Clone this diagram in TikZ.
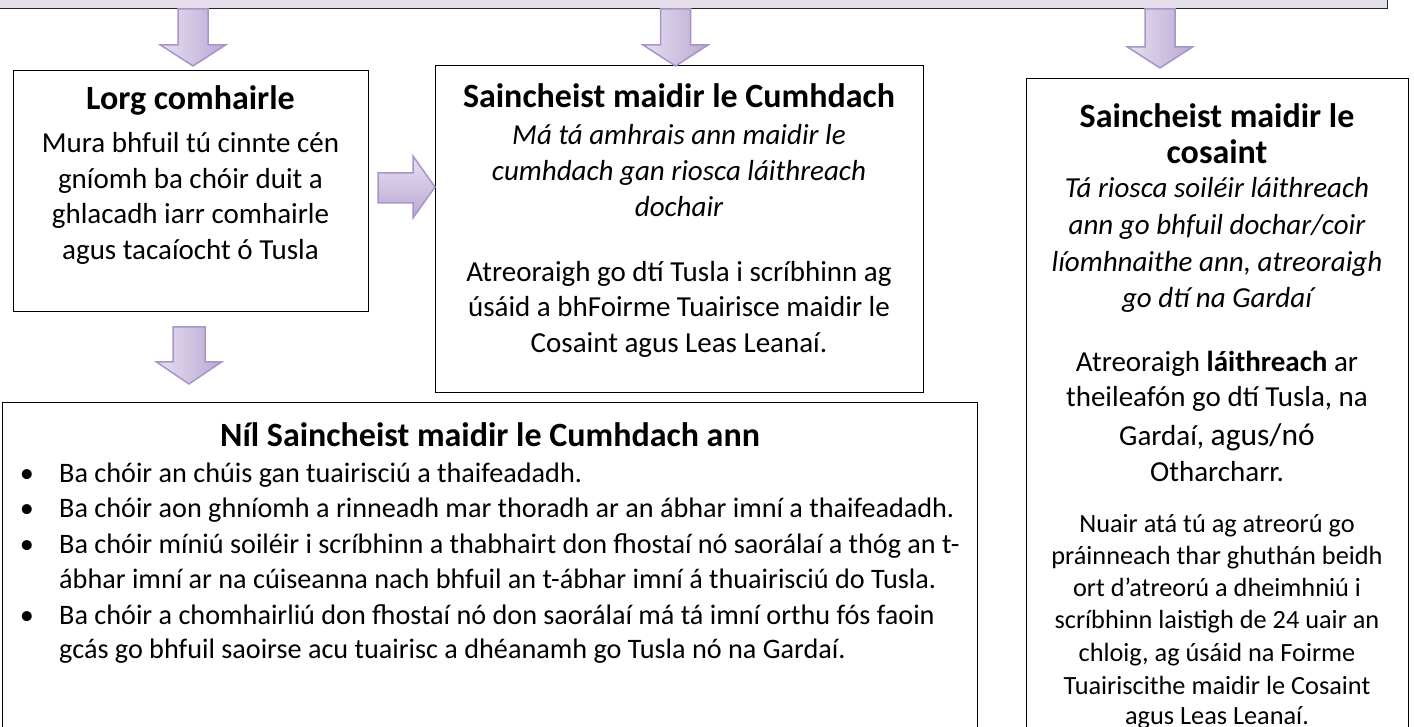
\documentclass[tikz,border=0pt]{standalone}
\usepackage{fontspec}
\setmainfont{Carlito}
\definecolor{toplav}{RGB}{229,223,236}
\definecolor{arrL}{RGB}{230,224,240}
\definecolor{arrR}{RGB}{186,168,212}
\definecolor{arrB}{RGB}{168,148,200}
\newcommand\fbody{\fontsize{29}{35}\selectfont}
\newcommand\fbul{\fontsize{28.2}{35}\selectfont}
\newcommand\ftitle{\fontsize{34}{36}\selectfont\bfseries}
\newcommand\fsmall{\fontsize{26.3}{32}\selectfont}
\newcommand\fbig{\fontsize{31.5}{36}\selectfont}
\begin{document}
\begin{tikzpicture}[x=1pt,y=1pt,
  boxstyle/.style={draw=black, line width=1.2pt, fill=white, inner sep=0pt, anchor=south west},
  tl/.style={anchor=base, inner sep=0pt, font=\ftitle},
  bl/.style={anchor=base, inner sep=0pt, font=\fbody},
  il/.style={anchor=base, inner sep=0pt, font=\fbody\itshape},
  sl/.style={anchor=base, inner sep=0pt, font=\fsmall},
  ll/.style={anchor=base west, inner sep=0pt, font=\fbul},
  bul/.style={anchor=base, inner sep=0pt, font=\fbul},
  blockarrow/.style={left color=arrL, right color=arrR, draw=arrB, line width=1.5pt, line join=miter},
  blockarrowh/.style={top color=arrL, bottom color=arrR, draw=arrB, line width=1.5pt, line join=miter},
]
\useasboundingbox (0,0) rectangle (1414,726);
\begin{scope}
\clip (0,0) rectangle (1414,726);
% boxes
\node[boxstyle, fill=toplav, draw=black!85, minimum width=1397pt, minimum height=30pt] (top) at (-10,717) {};
\node[boxstyle, minimum width=355pt, minimum height=241pt] (lorg) at (13,414) {};
\node[boxstyle, minimum width=488pt, minimum height=327pt] (mid) at (435,333) {};
\node[boxstyle, minimum width=382pt, minimum height=657pt] (right) at (1026,-10) {};
\node[boxstyle, minimum width=975pt, minimum height=333pt] (bot) at (2,-10) {};

% block arrows
\shadedraw[blockarrow] (178,717) -- (208,717) -- (208,681) -- (225.5,681) -- (193,660) -- (160.5,681) -- (178,681) -- cycle;
\shadedraw[blockarrow] (660.5,717) -- (690.5,717) -- (690.5,681) -- (708,681) -- (675.5,660) -- (643,681) -- (660.5,681) -- cycle;
\shadedraw[blockarrow] (1145,717) -- (1175,717) -- (1175,679) -- (1192.5,679) -- (1160,658) -- (1127.5,679) -- (1145,679) -- cycle;
\shadedraw[blockarrow] (173,399) -- (205,399) -- (205,364) -- (221.5,364) -- (189,342) -- (156.5,364) -- (173,364) -- cycle;
\shadedraw[blockarrowh] (378,553) -- (413,553) -- (413,570) -- (435,539) -- (413,508) -- (413,523) -- (378,523) -- cycle;

% Lorg comhairle
\node[tl] (l0) at (190.5,616) {Lorg comhairle};
\node[bl] (l1) at (190.5,573) {Mura bhfuil tú cinnte cén};
\node[bl] (l2) at (190.5,537) {gníomh ba chóir duit a};
\node[bl] (l3) at (190.5,502) {ghlacadh iarr comhairle};
\node[bl] (l4) at (190.5,466) {agus tacaíocht ó Tusla};

% middle
\node[tl] (m0) at (679,618) {Saincheist maidir le Cumhdach};
\node[il] (m1) at (679,581) {Má tá amhrais ann maidir le};
\node[il] (m2) at (679,545) {cumhdach gan riosca láithreach};
\node[il] (m3) at (679,509) {dochair};
\node[bl] (m4) at (679,444) {Atreoraigh go dtí Tusla i scríbhinn ag};
\node[bl] (m5) at (679,409) {úsáid a bhFoirme Tuairisce maidir le};
\node[bl] (m6) at (679,373) {Cosaint agus Leas Leanaí.};

% right
\node[tl] (r0) at (1217,598) {Saincheist maidir le};
\node[tl] (r1) at (1217,562) {cosaint};
\node[il] (r2) at (1217,528) {Tá riosca soiléir láithreach};
\node[il] (r3) at (1217,491) {ann go bhfuil dochar/coir};
\node[il] (r4) at (1217,454) {líomhnaithe ann, atreoraigh};
\node[il] (r5) at (1217,418) {go dtí na Gardaí};
\node[bl] (r6) at (1217,354) {Atreoraigh \textbf{láithreach} ar};
\node[bl] (r7) at (1217,319) {theileafón go dtí Tusla, na};
\node[bl] (r8) at (1217,280) {Gardaí, {\fbig agus/nó}};
\node[bl] (r9) at (1217,244) {Otharcharr.};
\node[sl] (r10) at (1217,193) {Nuair atá tú ag atreorú go};
\node[sl] (r11) at (1217,161) {práinneach thar ghuthán beidh};
\node[sl] (r12) at (1217,129) {ort d’atreorú a dheimhniú i};
\node[sl] (r13) at (1217,97) {scríbhinn laistigh de 24 uair an};
\node[sl] (r14) at (1217,64) {chloig, ag úsáid na Foirme};
\node[sl] (r15) at (1217,32) {Tuairiscithe maidir le Cosaint};
\node[sl] (r16) at (1217,2) {agus Leas Leanaí.};

% bottom
\node[tl] (b0) at (490,279) {Níl Saincheist maidir le Cumhdach ann};
\node[bul] (k1) at (27,243) {•};
\node[bul] (k2) at (27,208) {•};
\node[bul] (k3) at (27,172) {•};
\node[bul] (k4) at (27,102) {•};
\node[ll] (b1) at (59,243) {Ba chóir an chúis gan tuairisciú a thaifeadadh.};
\node[ll] (b2) at (59,208) {Ba chóir aon ghníomh a rinneadh mar thoradh ar an ábhar imní a thaifeadadh.};
\node[ll] (b3) at (59,172) {Ba chóir míniú soiléir i scríbhinn a thabhairt don fhostaí nó saorálaí a thóg an t-};
\node[ll] (b4) at (59,137) {ábhar imní ar na cúiseanna nach bhfuil an t-ábhar imní á thuairisciú do Tusla.};
\node[ll] (b5) at (59,102) {Ba chóir a chomhairliú don fhostaí nó don saorálaí má tá imní orthu fós faoin};
\node[ll] (b6) at (59,67) {gcás go bhfuil saoirse acu tuairisc a dhéanamh go Tusla nó na Gardaí.};
\end{scope}
\end{tikzpicture}
\end{document}
